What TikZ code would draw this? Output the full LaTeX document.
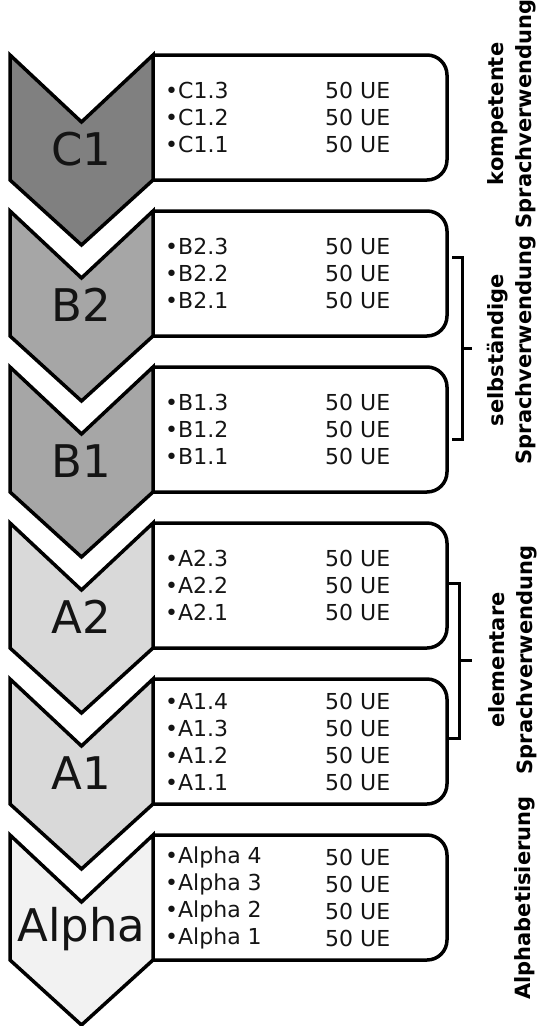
\documentclass[tikz,border=0pt]{standalone}
\usepackage{fontspec}
\setmainfont{DejaVu Sans}
\usepackage{tikz}

\definecolor{levelC}{gray}{0.50}
\definecolor{levelB}{gray}{0.65}
\definecolor{levelA}{gray}{0.85}
\definecolor{levelAlpha}{gray}{0.95}

\begin{document}
\begin{tikzpicture}[
        x=1pt, y=-1pt,
        chevron/.style={draw=black, line width=3.5pt},
        levelbox/.style={draw=black, line width=3.5pt, rounded corners=20pt},
        level/.style={font=\fontsize{45}{50}\selectfont, text=black!92},
        items/.style={anchor=west, align=left, inner sep=0pt, text=black!92,
            font=\fontsize{22}{27}\selectfont},
        group/.style={rotate=90, align=center, inner sep=0pt,
            font=\fontsize{21}{28}\selectfont\bfseries},
        bracket/.style={draw=black, line width=3pt}
    ]

        \useasboundingbox (0,0) rectangle (539,1026);

        % Boxes with the modules
        \draw[levelbox] (153,55) -- (447,55) -- (447,180) -- (153,180);
        \draw[levelbox] (153,211) -- (447,211) -- (447,336) -- (153,336);
        \draw[levelbox] (153,367) -- (447,367) -- (447,492) -- (153,492);
        \draw[levelbox] (153,523) -- (447,523) -- (447,648) -- (153,648);
        \draw[levelbox] (153,679) -- (447,679) -- (447,804) -- (153,804);
        \draw[levelbox] (153,835) -- (447,835) -- (447,960) -- (153,960);

        % Chevrons for the levels
        \draw[chevron, fill=levelC] (10,55) -- (81.5,122) -- (153,55) -- (153,180) -- (81.5,245) -- (10,180) -- cycle;
        \draw[chevron, fill=levelB] (10,211) -- (81.5,278) -- (153,211) -- (153,336) -- (81.5,401) -- (10,336) -- cycle;
        \draw[chevron, fill=levelB] (10,367) -- (81.5,434) -- (153,367) -- (153,492) -- (81.5,557) -- (10,492) -- cycle;
        \draw[chevron, fill=levelA] (10,523) -- (81.5,590) -- (153,523) -- (153,648) -- (81.5,713) -- (10,648) -- cycle;
        \draw[chevron, fill=levelA] (10,679) -- (81.5,746) -- (153,679) -- (153,804) -- (81.5,869) -- (10,804) -- cycle;
        \draw[chevron, fill=levelAlpha] (10,835) -- (81.5,902) -- (153,835) -- (153,960) -- (81.5,1025) -- (10,960) -- cycle;

        % Level names
        \node[level] (C1) at (81.5,149) {C1};
        \node[level] (B2) at (81.5,305) {B2};
        \node[level] (B1) at (81.5,461) {B1};
        \node[level] (A2) at (81.5,617) {A2};
        \node[level] (A1) at (81.5,773) {A1};
        \node[level] (Alpha) at (81.5,929) {Alpha};

        % Modules and hours
        \node[items] (C1list) at (165,117.5) {•C1.3\\•C1.2\\•C1.1};
        \node[items] (C1ue) at (325,117.5) {50 UE\\50 UE\\50 UE};
        \node[items] (B2list) at (165,273.5) {•B2.3\\•B2.2\\•B2.1};
        \node[items] (B2ue) at (325,273.5) {50 UE\\50 UE\\50 UE};
        \node[items] (B1list) at (165,429.5) {•B1.3\\•B1.2\\•B1.1};
        \node[items] (B1ue) at (325,429.5) {50 UE\\50 UE\\50 UE};
        \node[items] (A2list) at (165,585.5) {•A2.3\\•A2.2\\•A2.1};
        \node[items] (A2ue) at (325,585.5) {50 UE\\50 UE\\50 UE};
        \node[items] (A1list) at (165,741.5) {•A1.4\\•A1.3\\•A1.2\\•A1.1};
        \node[items] (A1ue) at (325,741.5) {50 UE\\50 UE\\50 UE\\50 UE};
        \node[items] (Alphalist) at (165,897.5) {•Alpha 4\\•Alpha 3\\•Alpha 2\\•Alpha 1};
        \node[items] (Alphaue) at (325,897.5) {50 UE\\50 UE\\50 UE\\50 UE};

        % Brackets for B and A
        \coordinate (Btop) at (452,257);
        \coordinate (Bbot) at (452,439);
        \coordinate (Bmid) at (462,348);
        \coordinate (Btip) at (472,348);
        \draw[bracket] (Btop) -- (462,257) -- (462,439) -- (Bbot);
        \draw[bracket] (Bmid) -- (Btip);

        \coordinate (Atop) at (449,583);
        \coordinate (Abot) at (449,738);
        \coordinate (Amid) at (459,660);
        \coordinate (Atip) at (472,660);
        \draw[bracket] (Atop) -- (459,583) -- (459,738) -- (Abot);
        \draw[bracket] (Amid) -- (Atip);

        % Group labels
        \node[group] (kompetent) at (512,114) {kompetente\\Sprachverwendung};
        \node[group] (selbst) at (512,350) {selbständige\\Sprachverwendung};
        \node[group] (elementar) at (513,660) {elementare\\Sprachverwendung};
        \node[group] (alphabet) at (525,898) {Alphabetisierung};

    \end{tikzpicture}
\end{document}
